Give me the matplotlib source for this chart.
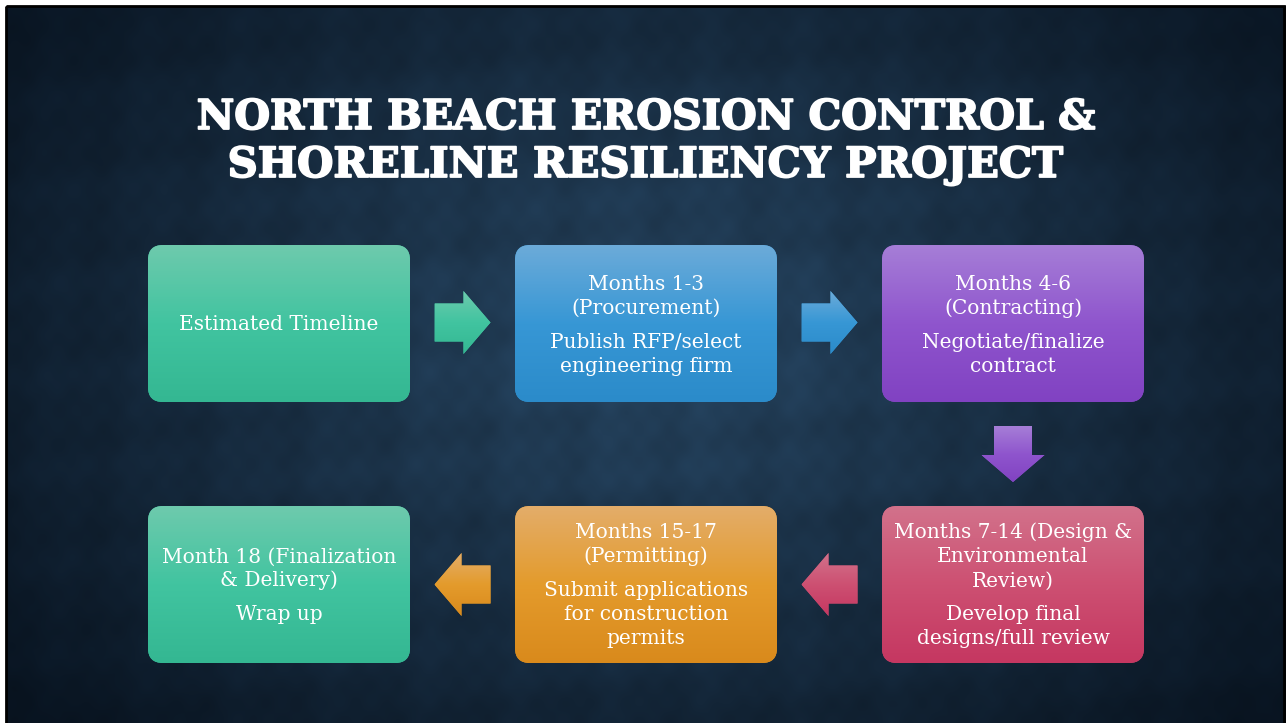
"""Rebuild the North Beach project timeline slide as a flow diagram."""

import matplotlib.patheffects as pe
import matplotlib.pyplot as plt
import numpy as np
from matplotlib.colors import LinearSegmentedColormap
from matplotlib.patches import FancyBboxPatch, Polygon, Rectangle

TITLE_LINES = ["NORTH BEACH EROSION CONTROL &", "SHORELINE RESILIENCY PROJECT"]

STEP_HEADINGS = [
    ["Estimated Timeline"],
    ["Months 1-3", "(Procurement)"],
    ["Months 4-6", "(Contracting)"],
    ["Months 7-14 (Design &", "Environmental", "Review)"],
    ["Months 15-17", "(Permitting)"],
    ["Month 18 (Finalization", "& Delivery)"],
]
STEP_DETAILS = [
    [],
    ["Publish RFP/select", "engineering firm"],
    ["Negotiate/finalize", "contract"],
    ["Develop final", "designs/full review"],
    ["Submit applications", "for construction", "permits"],
    ["Wrap up"],
]

# gradient stops (top, middle, bottom) per step
STEP_COLORS = [
    ["#6ecaad", "#41c4a0", "#34b792"],
    ["#6cabd9", "#3797d5", "#2b8bca"],
    ["#a67ed7", "#8f55cd", "#8142c2"],
    ["#d2728b", "#cd5072", "#c53761"],
    ["#e3ad6a", "#e49b2c", "#d98a1c"],
    ["#6ecaad", "#41c4a0", "#34b792"],
]

W, H = 1286, 723
BOX_X0, BOX_W, BOX_GAP = 148, 262, 105
BOX_Y0, BOX_H, ROW_GAP = 245, 157, 104
LINE_STEP, PARA_GAP = 24, 10
FONT = "DejaVu Serif"


def gradient_fill(ax, clip, x0, x1, y0, y1, stops):
    cmap = LinearSegmentedColormap.from_list("g", stops)
    grad = np.linspace(0, 1, 256).reshape(-1, 1)
    im = ax.imshow(grad, cmap=cmap, extent=(x0, x1, y1, y0), aspect="auto",
                   interpolation="bilinear", zorder=clip.get_zorder())
    im.set_clip_path(clip)


def arrow_shape(cx, cy, direction, length=56, shaft=38, head=63, head_len=27):
    # horizontal arrow pointing right, then rotated
    pts = np.array([
        [-length / 2, -shaft / 2], [length / 2 - head_len, -shaft / 2],
        [length / 2 - head_len, -head / 2], [length / 2, 0],
        [length / 2 - head_len, head / 2], [length / 2 - head_len, shaft / 2],
        [-length / 2, shaft / 2],
    ])
    c, s = {"right": (1, 0), "left": (-1, 0), "down": (0, 1)}[direction]
    out = np.column_stack([pts[:, 0] * c - pts[:, 1] * s, pts[:, 0] * s + pts[:, 1] * c])
    return out + [cx, cy]


def main() -> None:
    fig = plt.figure(figsize=(W / 100, H / 100), dpi=100, facecolor="white")
    ax = fig.add_axes([0, 0, 1, 1])
    ax.set_xlim(0, W)
    ax.set_ylim(H, 0)
    ax.axis("off")

    # slide background: dark navy with a soft glow and faint damask
    yy, xx = np.mgrid[0:H, 0:W].astype(float)
    r = np.sqrt(((xx - 650) / 820) ** 2 + ((yy - 340) / 560) ** 2)
    t = np.clip(r, 0, 1)
    center = np.array([0.15, 0.27, 0.38])
    edge = np.array([0.035, 0.08, 0.13])
    bg = center * (1 - t[..., None]) + edge * t[..., None]
    u, v = (xx + yy) / 30.0, (xx - yy) / 30.0
    pattern = (np.sin(u) * np.sin(v) + 0.6 * np.sin(2.3 * u + 1) * np.cos(1.7 * v)
               + 0.4 * np.sin(0.21 * xx) * np.cos(0.17 * yy))
    bg = bg * (1 + 0.06 * pattern[..., None])
    ax.imshow(np.clip(bg, 0, 1), extent=(6, W, H, 6), aspect="auto", zorder=0)
    ax.add_patch(Rectangle((6, 6), W - 8, H, fill=False, edgecolor="black",
                           linewidth=2.0, zorder=1))

    # title, fitted to the widths used by the original
    title_y = [115, 163]
    title_w = [898, 835]
    for line, y, tw in zip(TITLE_LINES, title_y, title_w):
        txt = ax.text(645, y + 14, line, ha="center", va="baseline", color="white",
                      fontsize=30, fontweight="bold", family=FONT, zorder=5,
                      path_effects=[pe.withStroke(linewidth=1.3, foreground="white")])
        fig.canvas.draw()
        ext = txt.get_window_extent()
        txt.set_fontsize(30 * tw / ext.width)

    # boxes in snake order
    for i, (heads, details, stops) in enumerate(zip(STEP_HEADINGS, STEP_DETAILS, STEP_COLORS)):
        row = i // 3
        col = i % 3 if row == 0 else 2 - i % 3
        x0 = BOX_X0 + col * (BOX_W + BOX_GAP)
        y0 = BOX_Y0 + row * (BOX_H + ROW_GAP)
        box = FancyBboxPatch((x0, y0), BOX_W, BOX_H,
                             boxstyle="round,pad=0,rounding_size=15",
                             facecolor=stops[1], edgecolor="none", zorder=3)
        ax.add_patch(box)
        gradient_fill(ax, box, x0, x0 + BOX_W, y0, y0 + BOX_H, stops)

        n_lines = len(heads) + len(details)
        block = (n_lines - 1) * LINE_STEP + (PARA_GAP if details else 0)
        y = y0 + BOX_H / 2 - block / 2
        for k, line in enumerate(heads + details):
            if k == len(heads):
                y += PARA_GAP
            ax.text(x0 + BOX_W / 2, y + 7, line, ha="center", va="baseline",
                    color="white", fontsize=14.5, family=FONT, zorder=6)
            y += LINE_STEP

    # connecting arrows
    top_mid = BOX_Y0 + BOX_H / 2
    bot_mid = BOX_Y0 + BOX_H + ROW_GAP + BOX_H / 2
    gap_c = [BOX_X0 + BOX_W + BOX_GAP / 2 + k * (BOX_W + BOX_GAP) for k in range(2)]
    arrows = [
        (gap_c[0], top_mid - 1, "right", STEP_COLORS[0]),
        (gap_c[1], top_mid - 1, "right", STEP_COLORS[1]),
        (BOX_X0 + 2 * (BOX_W + BOX_GAP) + BOX_W / 2, BOX_Y0 + BOX_H + ROW_GAP / 2,
         "down", STEP_COLORS[2]),
        (gap_c[1], bot_mid, "left", STEP_COLORS[3]),
        (gap_c[0], bot_mid, "left", STEP_COLORS[4]),
    ]
    for cx, cy, direction, stops in arrows:
        pts = arrow_shape(cx, cy, direction)
        poly = Polygon(pts, closed=True, facecolor=stops[1], edgecolor="none", zorder=3)
        ax.add_patch(poly)
        gradient_fill(ax, poly, pts[:, 0].min(), pts[:, 0].max(),
                      pts[:, 1].min(), pts[:, 1].max(), stops)

    fig.savefig("out.png", dpi=100, facecolor="white")
    plt.close(fig)


if __name__ == "__main__":
    main()
